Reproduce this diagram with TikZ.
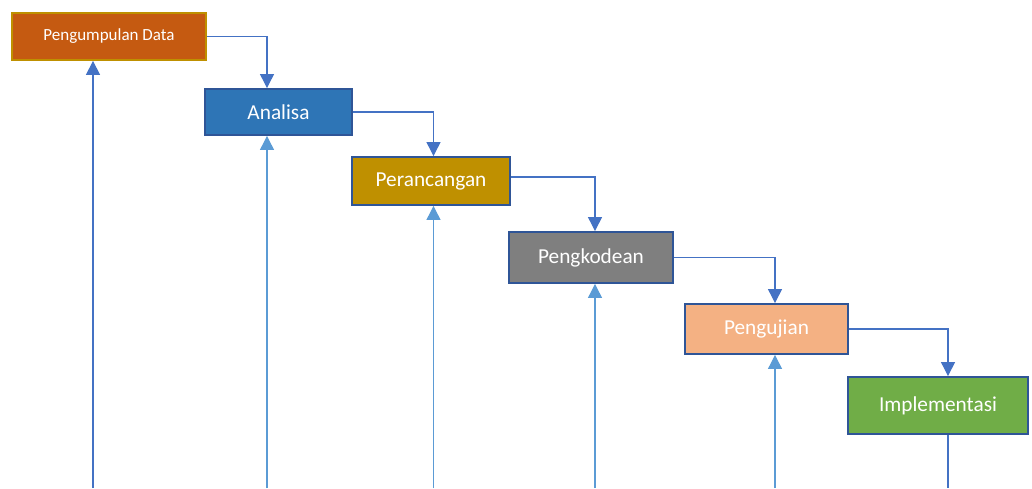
\documentclass[tikz,border=0pt]{standalone}
\usepackage{fontspec}
\setmainfont{Carlito}
\usetikzlibrary{arrows.meta}
\definecolor{cOrange}{HTML}{C55A11}
\definecolor{cGold}{HTML}{BF9000}
\definecolor{cBlue}{HTML}{2E75B6}
\definecolor{cDark}{HTML}{2F5597}
\definecolor{cGray}{HTML}{7F7F7F}
\definecolor{cPeach}{HTML}{F4B183}
\definecolor{cGreen}{HTML}{70AD47}
\definecolor{cLine}{HTML}{4472C4}
\definecolor{cLight}{HTML}{5B9BD5}
\tikzset{
  stage/.style={draw=cDark, line width=2.4pt, text=white, inner sep=0pt, font=\fontsize{21.3}{24}\selectfont},
  flow/.style={draw=cLine, line width=1.2pt, -{Triangle[width=14pt,length=14pt]}},
  upflow/.style={draw=cLight, line width=1.2pt, -{Triangle[width=14pt,length=14pt]}},
}
\begin{document}
\begin{tikzpicture}[x=1pt,y=-1pt]
\useasboundingbox (0,0) rectangle (1032,488);
\node[stage, draw=cGold, line width=1.8pt, fill=cOrange, minimum width=194pt, minimum height=47pt, font=\fontsize{17}{20}\selectfont] (p) at (109,36.5) {Pengumpulan Data};
\node[stage, fill=cBlue, minimum width=146.5pt, minimum height=45.5pt] (a) at (278.5,112) {Analisa};
\node[stage, fill=cGold, minimum width=157.5pt, minimum height=47.5pt] (r) at (431,181) {Perancangan};
\node[stage, fill=cGray, minimum width=163.5pt, minimum height=50.5pt] (k) at (591,257.5) {Pengkodean};
\node[stage, fill=cPeach, minimum width=162.5pt, minimum height=49.5pt] (u) at (766.5,329) {Pengujian};
\node[stage, fill=cGreen, minimum width=179.5pt, minimum height=56.5pt] (i) at (938,405.5) {Implementasi};

\coordinate (b1) at (93,488);
\coordinate (b2) at (267,488);
\coordinate (b3) at (433.5,488);
\coordinate (b4) at (595,488);
\coordinate (b5) at (775,488);
\coordinate (b6) at (948,488);

\draw[flow] (b1) -- (b1 |- p.south);
\draw[upflow] (b2) -- (b2 |- a.south);
\draw[upflow] (b3) -- (b3 |- r.south);
\draw[upflow] (b4) -- (b4 |- k.south);
\draw[upflow] (b5) -- (b5 |- u.south);
\draw[draw=cLine, line width=1.2pt] (i.south -| b6) -- (b6);

\draw[flow] (p.east) -| (b2 |- a.north);
\draw[flow] (a.east) -| (b3 |- r.north);
\draw[flow] ([yshift=4pt]r.east) -| (b4 |- k.north);
\draw[flow] (k.east) -| (b5 |- u.north);
\draw[flow] (u.east) -| (b6 |- i.north);
\end{tikzpicture}
\end{document}
